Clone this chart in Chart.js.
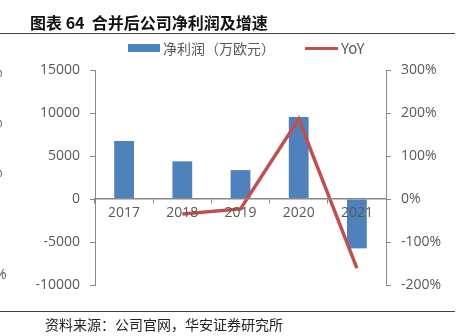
<!DOCTYPE html>
<html>
<head>
<meta charset="utf-8">
<script src="https://cdn.jsdelivr.net/npm/chart.js@4.4.1/dist/chart.umd.min.js"></script>
<style>
  body { margin: 0; background: #fff; font-family: "Noto Sans CJK SC", sans-serif; }
  #wrap { position: relative; width: 464px; height: 336px; overflow: hidden; }
  #chart { position: absolute; left: 0; top: 0; }
  .title { position: absolute; left: 30px; top: 10px; font-size: 16px; font-weight: bold; color: #111; white-space: nowrap; }
  .rule { position: absolute; left: 0; width: 455px; height: 1px; background: #444; }
  .source { position: absolute; left: 45px; top: 314px; font-size: 14px; color: #222; white-space: nowrap; }
  .legend { position: absolute; top: 38px; font-size: 14px; color: #595959; white-space: nowrap; }
  .swatch { position: absolute; }
  .edge { position: absolute; font-family: "Open Sans", sans-serif; font-size: 14px; color: #595959; }
</style>
</head>
<body>
<div id="wrap">
  <canvas id="chart" width="464" height="336"></canvas>
  <div class="title">图表 64&nbsp; 合并后公司净利润及增速</div>
  <div class="rule" style="top:33px"></div>
  <div class="swatch" style="left:128px;top:44px;width:32px;height:8px;background:#4F81BD"></div>
  <div class="legend" style="left:163px">净利润（万欧元）</div>
  <div class="swatch" style="left:305px;top:47px;width:33px;height:3px;background:#C0504D"></div>
  <div class="legend" style="left:341px;top:37px;font-size:15px">YoY</div>
  <div class="rule" style="top:311px"></div>
  <div class="source">资料来源：公司官网，华安证券研究所</div>
  <div class="edge" style="left:-9px;top:62px">%</div>
  <div class="edge" style="left:-9px;top:112px">%</div>
  <div class="edge" style="left:-9px;top:162px">%</div>
  <div class="edge" style="left:-5px;top:264px">%</div>
</div>
<script>
var years = ['2017', '2018', '2019', '2020', '2021'];
var netProfit = [6750, 4380, 3360, 9530, -5740];   // 万欧元
var yoy = [null, -35, -23, 186, -161];              // %

var gray = '#595959';
var axisGray = '#888888';
var tickFont = { size: 14, family: 'Open Sans' };

new Chart(document.getElementById('chart').getContext('2d'), {
  data: {
    labels: years,
    datasets: [
      {
        type: 'line',
        label: 'YoY',
        data: yoy,
        yAxisID: 'y1',
        borderColor: '#C0504D',
        borderWidth: 3.5,
        pointRadius: 0,
        tension: 0,
        order: 0
      },
      {
        type: 'bar',
        label: '净利润（万欧元）',
        data: netProfit,
        yAxisID: 'y',
        backgroundColor: '#4F81BD',
        categoryPercentage: 1,
        barPercentage: 0.34,
        order: 1
      }
    ]
  },
  options: {
    responsive: false,
    animation: false,
    layout: { padding: { top: 70, bottom: 51, left: 0, right: 0 } },
    plugins: { legend: { display: false }, tooltip: { enabled: false } },
    scales: {
      x: {
        position: { y: 0 },
        grid: { offset: true, drawOnChartArea: false, drawTicks: true, tickLength: 4, color: axisGray, z: 1 },
        border: { color: axisGray, width: 1.5, z: 1 },
        ticks: { color: gray, font: tickFont, padding: 2, z: 1 }
      },
      y: {
        position: 'left',
        min: -10000, max: 15000,
        afterFit: function(s) { s.width = 95; },
        grid: { drawOnChartArea: false, tickLength: 5, color: axisGray },
        border: { color: axisGray },
        ticks: {
          stepSize: 5000, color: gray, font: tickFont, padding: 10,
          callback: function(v) { return String(v); }
        }
      },
      y1: {
        position: 'right',
        min: -200, max: 300,
        afterFit: function(s) { s.width = 78; },
        grid: { drawOnChartArea: false, tickLength: 5, color: axisGray },
        border: { color: axisGray },
        ticks: {
          stepSize: 100, color: gray, font: tickFont, padding: 10,
          callback: function(v) { return v + '%'; }
        }
      }
    }
  }
});
</script>
</body>
</html>
